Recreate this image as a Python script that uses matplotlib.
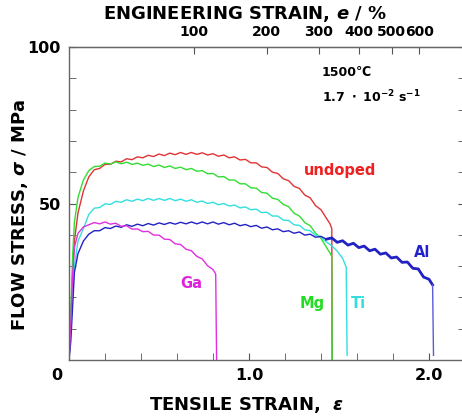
import numpy as np
import matplotlib
matplotlib.use('Agg')
import matplotlib.pyplot as plt
import matplotlib.transforms as mtransforms

plt.rcParams.update({'font.family': 'DejaVu Sans', 'font.weight': 'bold',
                     'axes.labelweight': 'bold', 'mathtext.fontset': 'dejavusans'})

# ---- data (true strain, flow stress in MPa) ----
undoped_strain = [0.0, 0.01, 0.02, 0.03, 0.05, 0.08, 0.11,
                  0.14, 0.17, 0.20, 0.23, 0.26, 0.29, 0.32, 0.35, 0.38, 0.41,
                  0.44, 0.47, 0.50, 0.53, 0.56, 0.59, 0.62, 0.65, 0.68, 0.71,
                  0.74, 0.77, 0.80, 0.83, 0.86, 0.89, 0.92, 0.95, 0.98, 1.01,
                  1.04, 1.07, 1.10, 1.13, 1.16, 1.19, 1.22, 1.25, 1.28, 1.31,
                  1.34, 1.37, 1.40, 1.43, 1.45, 1.46, 1.462]
undoped_stress = [0, 12, 28, 38, 47, 54, 58.5,
                  60.8, 61.2, 62.5, 62.5, 63.5, 63.3, 64.3, 64.0, 64.9, 64.6,
                  65.4, 65.0, 65.8, 65.3, 66.1, 65.6, 66.3, 65.7, 66.3, 65.7,
                  66.2, 65.5, 65.9, 65.1, 65.5, 64.6, 64.9, 63.9, 64.1, 63.0,
                  63.0, 61.7, 61.5, 60.0, 59.6, 57.9, 57.3, 55.5, 54.8, 52.7,
                  51.8, 49.3, 48.0, 45.3, 43.5, 42.0, 0]

mg_strain = undoped_strain[:-3] + [1.45, 1.46, 1.462]
mg_stress = [0, 15, 33, 44, 52, 57.5, 60.5,
             61.8, 61.9, 62.9, 62.6, 63.3, 62.7, 63.2, 62.5, 62.9, 62.2,
             62.6, 61.8, 62.3, 61.5, 62.0, 61.2, 61.6, 60.8, 61.2, 60.3,
             60.5, 59.5, 59.6, 58.5, 58.6, 57.5, 57.5, 56.3, 56.3, 55.0,
             54.9, 53.5, 53.3, 51.7, 51.3, 49.7, 49.0, 46.9, 46.0, 43.9,
             42.9, 40.5, 38.9, 36.0, 34.2, 33.0, 0]

ti_strain = undoped_strain[:-3] + [1.46, 1.49, 1.52, 1.54, 1.545]
ti_stress = [0, 10, 22, 30, 38, 42, 46.5,
             48.5, 48.7, 49.9, 49.7, 50.7, 50.4, 51.2, 50.7, 51.4, 50.9,
             51.6, 51.0, 51.6, 51.0, 51.6, 50.9, 51.4, 50.7, 51.2, 50.4,
             50.8, 50.0, 50.4, 49.6, 50.0, 49.2, 49.5, 48.6, 48.9, 48.0,
             48.2, 47.1, 47.2, 46.0, 46.0, 44.7, 44.6, 43.2, 43.0, 41.6,
             41.3, 39.8, 39.4, 37.7, 36.5, 34.8, 32.5, 29.7, 1.5]

al_strain = undoped_strain[:-3]
al_stress = [0, 6, 17, 28, 34, 38, 40.2,
             41.3, 41.3, 42.3, 42.0, 42.8, 42.4, 43.2, 42.7, 43.4, 42.9,
             43.6, 43.1, 43.8, 43.3, 43.9, 43.4, 44.0, 43.5, 44.1, 43.5,
             44.1, 43.5, 44.1, 43.4, 43.9, 43.2, 43.7, 42.9, 43.3, 42.6,
             43.0, 42.1, 42.5, 41.6, 41.9, 41.0, 41.3, 40.5, 40.9, 39.9,
             40.2, 39.2, 39.5, 38.6]
# noisy tail of the Al curve (drawn heavier, as in the original)
al_tail_strain = [1.43, 1.46, 1.49, 1.52, 1.55, 1.58, 1.61, 1.64, 1.67, 1.70,
                  1.73, 1.76, 1.79, 1.82, 1.85, 1.88, 1.91, 1.94, 1.97, 2.00,
                  2.02]
al_tail_stress = [38.6, 39.0, 37.6, 38.1, 36.7, 37.3, 35.9, 36.4, 34.9, 35.4,
                  33.8, 34.2, 32.6, 32.9, 31.2, 31.3, 29.3, 29.1, 26.5, 25.8,
                  24.0]
al_drop_strain = [2.02, 2.025]
al_drop_stress = [24.0, 1.5]

ga_strain = undoped_strain[:30] + [0.815, 0.82]
ga_stress = [0, 12, 27, 36, 40.5, 42.5, 43.2,
             43.9, 43.5, 44.1, 43.4, 43.7, 42.7, 42.9, 41.8, 41.9, 41.0,
             41.1, 39.9, 39.9, 38.6, 38.5, 37.1, 36.9, 35.4, 34.9, 33.1,
             32.3, 30.1, 28.9, 27.5, 0]

curve_names = ['undoped', 'Mg', 'Ti', 'Al', 'Ga']
curve_colors = ['#e03434', '#33dd33', '#33dfe0', '#2222c4', '#e030e0']
label_colors = ['#f02020', '#22dd22', '#33dddd', '#2222cc', '#dd22dd']
label_pos = [(1.505, 60.4), (1.35, 18.2), (1.61, 18.2), (1.96, 34.5), (0.68, 24.6)]

eng_ticks = [100, 200, 300, 400, 500, 600]

# ---- figure ----
fig = plt.figure(figsize=(4.62, 4.16), dpi=100)
ax = fig.add_axes([69/462, 56/416, 396/462, 313/416])

strains = [undoped_strain, mg_strain, ti_strain, al_strain, ga_strain]
stresses = [undoped_stress, mg_stress, ti_stress, al_stress, ga_stress]
for s, f, c in zip(strains, stresses, curve_colors):
    ax.plot(s, f, '-', color=c, linewidth=1.0)
ax.plot(al_tail_strain, al_tail_stress, '-', color=curve_colors[3], linewidth=2.0)
ax.plot(al_drop_strain, al_drop_stress, '-', color='#5a5ad8', linewidth=1.0)

for name, c, (lx, ly) in zip(curve_names, label_colors, label_pos):
    ax.text(lx, ly, name, color=c, fontsize=10.5, fontweight='bold',
            ha='center', va='center')

ax.text(1.405, 92, '1500\u2103', fontsize=9, fontweight='bold', va='center')
ax.text(1.405, 84, r'$\mathbf{1.7\ \cdot\ 10^{-2}\ s^{-1}}$', fontsize=9, va='center')

ax.set_xlim(0, 2.2)
ax.set_ylim(0, 100)
ax.set_xticks([0, 1.0, 2.0])
ax.set_xticklabels(['0', '1.0', '2.0'])
ax.set_xticks(np.arange(0, 2.21, 0.2), minor=True)
ax.set_yticks([50, 100])
ax.set_yticks(np.arange(0, 101, 10), minor=True)
ax.tick_params(which='both', direction='in', colors='#555555',
               labelcolor='black', labelsize=11.5, top=False, right=True)
ax.tick_params(which='major', length=5, pad=6)
ax.tick_params(which='minor', length=5)
for sp in ax.spines.values():
    sp.set_color('#666666')
    sp.set_linewidth(1.0)

# shift the "0" label to the left like the original
lab0 = ax.get_xticklabels()[0]
lab0.set_transform(lab0.get_transform() +
                   mtransforms.ScaledTranslation(-12/100, 0, fig.dpi_scale_trans))

ax.set_xlabel(r'TENSILE STRAIN,  $\varepsilon$', fontsize=13, fontweight='bold', va='center')
ax.xaxis.set_label_coords(0.449, -0.144)
ax.set_ylabel(r'FLOW STRESS, $\sigma$ / MPa', fontsize=13, fontweight='bold', va='center')
ax.yaxis.set_label_coords(-0.124, 0.463)

top = ax.secondary_xaxis('top', functions=(lambda x: (np.exp(x) - 1) * 100,
                                           lambda e: np.log(1 + np.clip(e, -99, None) / 100)))
top.set_xticks(eng_ticks)
top.set_xticklabels([str(t) for t in eng_ticks])
top.tick_params(direction='in', length=5, colors='#555555', labelcolor='black',
                labelsize=10, pad=6)
top.spines['top'].set_color('#666666')
fig.text(245/462, 1 - 14/416, r'ENGINEERING STRAIN, $e$ / %', fontsize=13,
         fontweight='bold', ha='center', va='center')

fig.savefig('out.png', dpi=100)
